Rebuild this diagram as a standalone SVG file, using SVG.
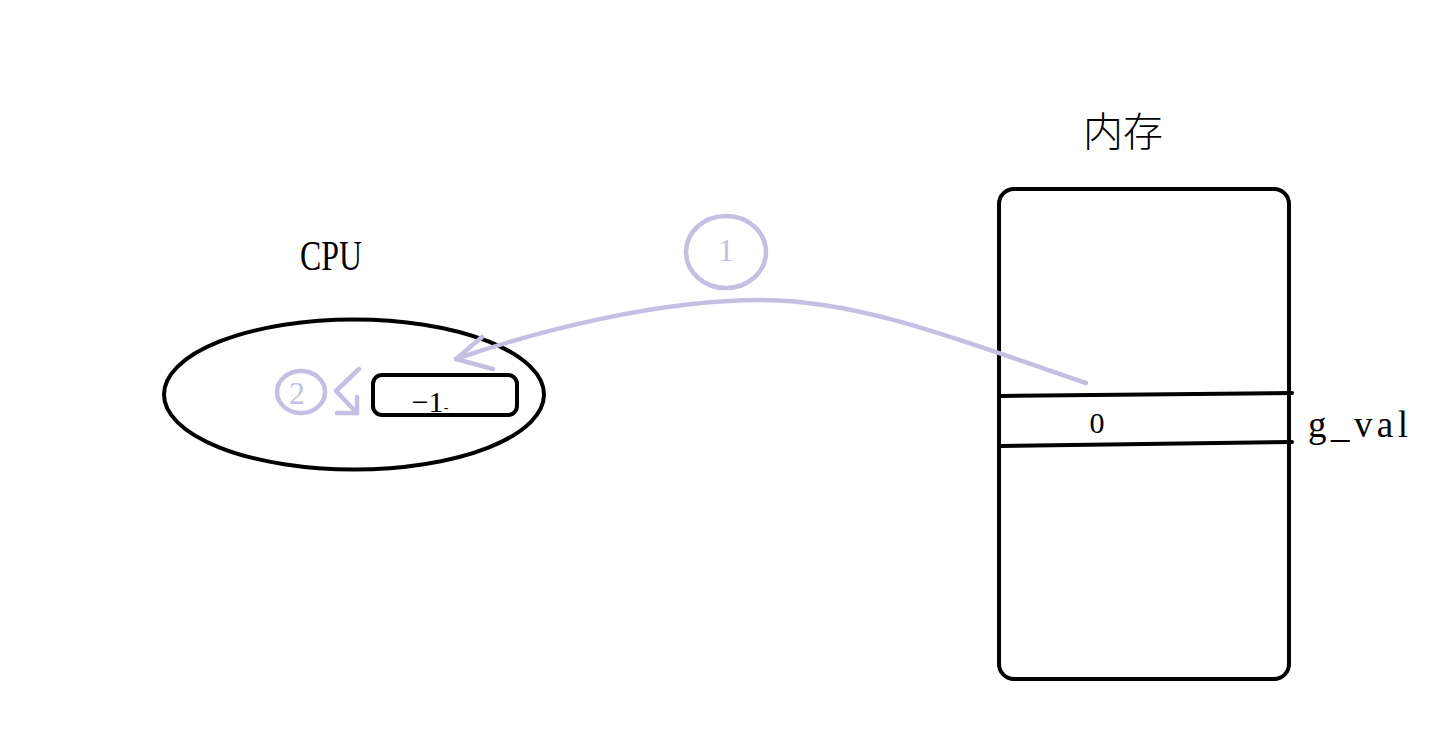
<svg xmlns="http://www.w3.org/2000/svg" width="1445" height="745" viewBox="0 0 1445 745">
<style>
.blk{fill:none;stroke:#000;stroke-width:4;stroke-linecap:round;stroke-linejoin:round}
.pur{fill:none;stroke:#c4bfe3;stroke-width:4.5;stroke-linecap:round;stroke-linejoin:round}
.t{font-family:"Liberation Serif",serif;fill:#000}
.pt{font-family:"Liberation Serif",serif;fill:#c4bfe3}
</style>
<rect width="1445" height="745" fill="#fff"/>
<g id="cpu">
<text class="t" x="331" y="270" font-size="42" text-anchor="middle" textLength="62" lengthAdjust="spacingAndGlyphs">CPU</text>
<ellipse class="blk" cx="354" cy="394.5" rx="190" ry="75"/>
</g>
<g id="register">
<rect class="blk" x="373" y="375" width="144" height="40" rx="9"/>
<text class="t" x="430" y="412" font-size="30" text-anchor="middle">−1<tspan font-size="14">-</tspan></text>
</g>
<g id="step2">
<ellipse class="pur" cx="301" cy="392" rx="24" ry="21"/>
<text class="pt" x="297" y="404" font-size="32" text-anchor="middle">2</text>
</g>
<g id="step1">
<ellipse class="pur" cx="726" cy="252" rx="40" ry="36"/>
<text class="pt" x="726" y="261" font-size="32" text-anchor="middle">1</text>
</g>
<g id="memory">
<text x="1123" y="146" font-size="40" text-anchor="middle" font-family="'Noto Sans CJK SC',sans-serif" font-weight="300" fill="#000">内存</text>
<rect class="blk" x="999" y="189" width="290" height="490" rx="15"/>
<line class="blk" x1="1000" y1="396" x2="1292" y2="393"/>
<line class="blk" x1="1000" y1="446" x2="1292" y2="442"/>
<text class="t" x="1097" y="433" font-size="30" text-anchor="middle">0</text>
<text class="t" x="1308" y="437" font-size="37" textLength="100" lengthAdjust="spacing">g_val</text>
</g>
<g id="connectors">
<path class="pur" d="M1086,383 C960,340 860,300 760,300 C660,300 540,330 456,359"/>
<polyline class="pur" points="482,337 456,359 493,369"/>
<polyline class="pur" points="359,369 336,391 357,413"/>
<polyline class="pur" points="357,397 357,413 337,413"/>
</g>
</svg>
